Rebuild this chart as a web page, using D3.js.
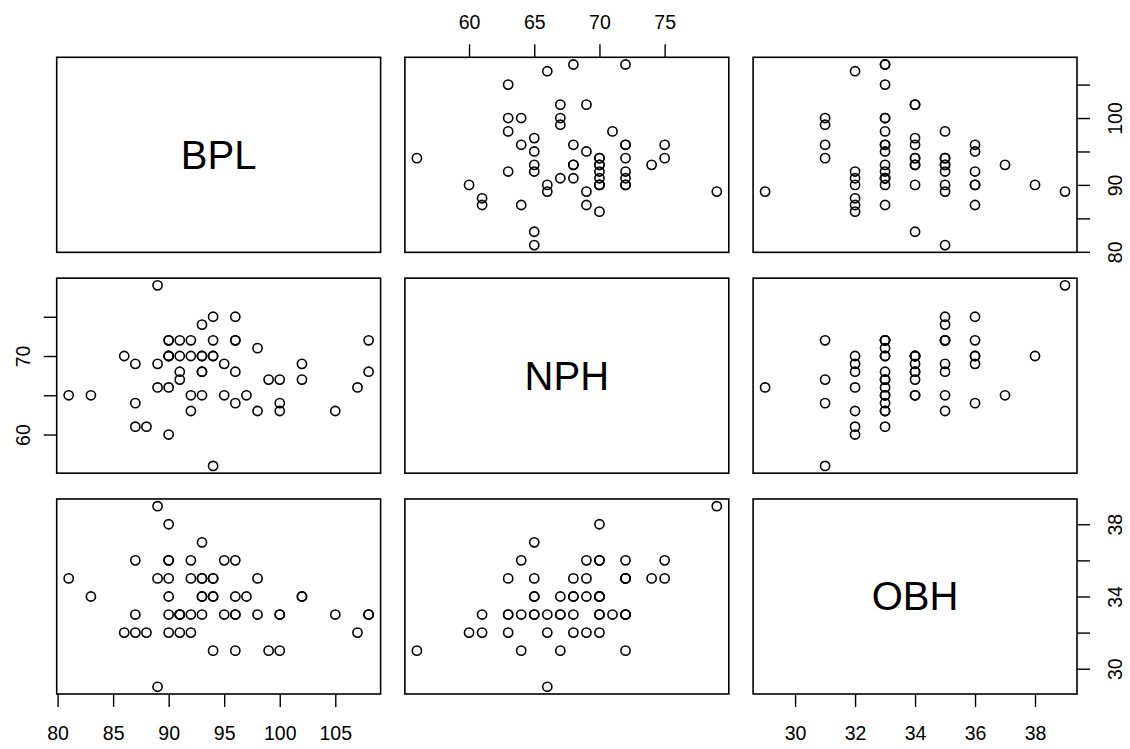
<!DOCTYPE html>
<html lang="en">
<head>
<meta charset="UTF-8">
<title>Pairs plot: BPL, NPH, OBH</title>
<script src="https://d3js.org/d3.v7.min.js"></script>
<style>
    body { margin: 0; background: #fff; }
    svg { font-family: "Liberation Sans", Arial, sans-serif; display: block; }
    .tick text { font-size: 19.5px; fill: #000; }
    .tick line { stroke: #000; stroke-width: 1.4; }
    .frame { fill: none; stroke: #000; stroke-width: 1.6; }
    .pt { fill: none; stroke: #000; stroke-width: 1.6; }
    .diag-label { font-size: 40px; text-anchor: middle; fill: #000; }
</style>
</head>
<body>
<svg id="chart"></svg>
<script>
    const varNames = ["BPL", "NPH", "OBH"];

    // one entry per skull
    const BPL = [81, 83, 86, 87, 87, 87, 88, 89, 89, 89,
                 90, 90, 90, 90, 90, 90, 90, 91, 91, 91,
                 91, 92, 92, 92, 92, 93, 93, 93, 93, 93,
                 93, 94, 94, 94, 94, 94, 95, 95, 96, 96,
                 96, 96, 96, 97, 98, 98, 99, 100, 100, 100,
                 102, 102, 105, 107, 108, 108];
    const NPH = [65, 65, 70, 61, 64, 69, 61, 79, 66, 69,
                 70, 72, 72, 70, 70, 66, 60, 72, 67, 70,
                 68, 72, 70, 65, 63, 65, 74, 68, 68, 70,
                 70, 75, 72, 70, 70, 56, 69, 65, 75, 72,
                 72, 68, 64, 65, 71, 63, 67, 67, 63, 64,
                 69, 67, 63, 66, 72, 68];
    const OBH = [35, 34, 32, 33, 36, 32, 32, 39, 29, 35,
                 38, 36, 35, 36, 34, 33, 32, 33, 33, 33,
                 32, 35, 36, 33, 32, 37, 35, 35, 34, 34,
                 33, 35, 35, 34, 34, 31, 36, 33, 36, 31,
                 33, 34, 33, 34, 33, 35, 31, 33, 33, 31,
                 34, 34, 33, 32, 33, 33];

    // tick positions and which of them carry a label on each side
    const bplTicks = [80, 85, 90, 95, 100, 105];
    const nphTicks = [60, 65, 70, 75];
    const obhTicks = [30, 32, 34, 36, 38];
    const bplRightLabels = [80, 90, 100];
    const nphLeftLabels = [60, 70];
    const obhRightLabels = [30, 34, 38];

    const columns = [BPL, NPH, OBH];

    const width = 1130, height = 749;
    const margin = { top: 57.3, right: 53, bottom: 55, left: 56.7 };
    const gapX = 24.3, gapY = 25.8;
    const panelW = (width - margin.left - margin.right - 2 * gapX) / 3;
    const panelH = (height - margin.top - margin.bottom - 2 * gapY) / 3;
    const tickLen = 13;

    const svg = d3.select("#chart").attr("width", width).attr("height", height);

    // R-style range: data extent padded by 4% each side
    function padded(values) {
        const [lo, hi] = d3.extent(values);
        const pad = (hi - lo) * 0.04;
        return [lo - pad, hi + pad];
    }

    const xs = columns.map(v => d3.scaleLinear().domain(padded(v)).range([0, panelW]));
    const ys = columns.map(v => d3.scaleLinear().domain(padded(v)).range([panelH, 0]));

    const px = j => margin.left + j * (panelW + gapX);
    const py = i => margin.top + i * (panelH + gapY);

    for (let i = 0; i < 3; i++) {
        for (let j = 0; j < 3; j++) {
            const cell = svg.append("g").attr("transform", `translate(${px(j)},${py(i)})`);
            if (i === j) {
                cell.append("text")
                    .attr("class", "diag-label")
                    .attr("x", panelW / 2)
                    .attr("y", panelH / 2 + 14)
                    .text(varNames[i]);
            } else {
                cell.selectAll("circle")
                    .data(d3.range(BPL.length))
                    .enter().append("circle")
                    .attr("class", "pt")
                    .attr("cx", k => xs[j](columns[j][k]))
                    .attr("cy", k => ys[i](columns[i][k]))
                    .attr("r", 4.6);
            }
            cell.append("rect")
                .attr("class", "frame")
                .attr("width", panelW)
                .attr("height", panelH);
        }
    }

    function labelOnly(keep) {
        return d => keep.includes(d) ? String(d) : "";
    }

    function tidy(g) {
        g.select(".domain").remove();
        g.attr("font-size", null).attr("font-family", null);
    }

    // bottom axes: BPL under column 1, OBH under column 3
    svg.append("g")
        .attr("transform", `translate(${px(0)},${py(2) + panelH})`)
        .call(d3.axisBottom(xs[0]).tickValues(bplTicks).tickSize(tickLen))
        .call(tidy)
        .selectAll("text").attr("y", 46).attr("dy", null);

    svg.append("g")
        .attr("transform", `translate(${px(2)},${py(2) + panelH})`)
        .call(d3.axisBottom(xs[2]).tickValues(obhTicks).tickSize(tickLen))
        .call(tidy)
        .selectAll("text").attr("y", 46).attr("dy", null);

    // top axis: NPH over column 2
    svg.append("g")
        .attr("transform", `translate(${px(1)},${py(0)})`)
        .call(d3.axisTop(xs[1]).tickValues(nphTicks).tickSize(tickLen))
        .call(tidy)
        .selectAll("text").attr("y", -28).attr("dy", null);

    // right axes: BPL beside row 1, OBH beside row 3
    svg.append("g")
        .attr("transform", `translate(${px(2) + panelW},${py(0)})`)
        .call(d3.axisRight(ys[0]).tickValues(bplTicks).tickSize(tickLen)
            .tickFormat(labelOnly(bplRightLabels)))
        .call(tidy)
        .selectAll("text")
        .attr("x", null).attr("dy", null)
        .attr("text-anchor", "middle")
        .attr("transform", "translate(45,0) rotate(-90)");

    svg.append("g")
        .attr("transform", `translate(${px(2) + panelW},${py(2)})`)
        .call(d3.axisRight(ys[2]).tickValues(obhTicks).tickSize(tickLen)
            .tickFormat(labelOnly(obhRightLabels)))
        .call(tidy)
        .selectAll("text")
        .attr("x", null).attr("dy", null)
        .attr("text-anchor", "middle")
        .attr("transform", "translate(45,0) rotate(-90)");

    // left axis: NPH beside row 2
    svg.append("g")
        .attr("transform", `translate(${px(0)},${py(1)})`)
        .call(d3.axisLeft(ys[1]).tickValues(nphTicks).tickSize(tickLen)
            .tickFormat(labelOnly(nphLeftLabels)))
        .call(tidy)
        .selectAll("text")
        .attr("x", null).attr("dy", null)
        .attr("text-anchor", "middle")
        .attr("transform", "translate(-27,0) rotate(-90)");
</script>
</body>
</html>
